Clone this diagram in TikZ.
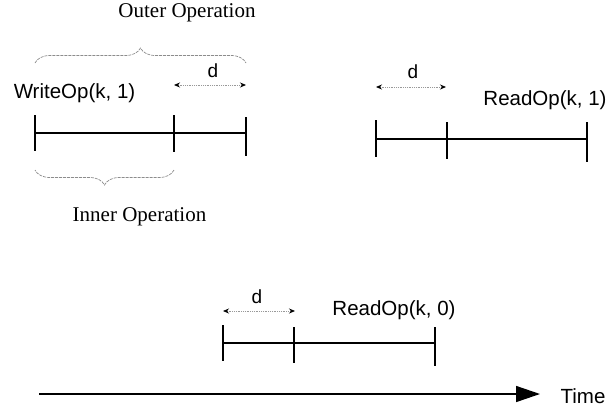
\documentclass[tikz,border=0pt]{standalone}
\usepackage{fontspec}
\setmainfont{Liberation Serif}
\setsansfont{Liberation Sans}
\usetikzlibrary{arrows.meta,decorations.pathreplacing}
\tikzset{
  lab/.style={font=\sffamily\fontsize{20.5}{22}\selectfont, inner sep=0pt, anchor=base},
  dlab/.style={font=\sffamily\fontsize{19}{21}\selectfont, inner sep=0pt, anchor=base},
  serlab/.style={font=\rmfamily\fontsize{21}{23}\selectfont, inner sep=0pt, anchor=base},
  opline/.style={line width=2.2pt},
  tick/.style={line width=1.3pt},
  darrow/.style={densely dotted, draw=gray!80, line width=0.8pt,
    arrows={Stealth[black,length=6pt,width=5pt]-Stealth[black,length=6pt,width=5pt]}},
  bracebox/.style={draw=gray!90, dashed, line width=0.7pt, dash pattern=on 3pt off 1pt},
}
\begin{document}
\begin{tikzpicture}[x=1pt,y=-1pt]
\useasboundingbox (0,0) rectangle (613,408);
% ---- WriteOp timeline
\coordinate (wa) at (35,133); \coordinate (wb) at (174,133); \coordinate (wc) at (246,133);
\draw[opline] (wa) -- (wb) -- (wc);
\draw[tick] (35,115) -- (35,151);
\draw[tick] (174,115) -- (174,152);
\draw[tick] (246,117) -- (246,156);
\node[lab] (wlab) at (74.5,98) {WriteOp(k, 1)};
\coordinate (wd1) at (174,85); \coordinate (wd2) at (246,85);
\draw[darrow] (wd1) -- (wd2);
\node[dlab] (wd) at (213,77) {d};
% outer brace
\coordinate (ob1) at (35,63); \coordinate (ob2) at (246,63);
\draw[bracebox, decorate, decoration={brace, amplitude=15pt, aspect=0.5}] (ob1) -- (ob2);
\node[serlab] (outer) at (187,17) {Outer Operation};
% inner brace
\coordinate (ib1) at (174,170); \coordinate (ib2) at (35,170);
\draw[bracebox, decorate, decoration={brace, amplitude=15pt, aspect=0.5}] (ib1) -- (ib2);
\node[serlab] (inner) at (139.5,221) {Inner Operation};
% ---- ReadOp(k,1)
\coordinate (ra) at (376,139); \coordinate (rb) at (447,139); \coordinate (rc) at (587,139);
\draw[opline] (ra) -- (rb) -- (rc);
\draw[tick] (376,120) -- (376,157);
\draw[tick] (447,122) -- (447,159);
\draw[tick] (587,122) -- (587,162);
\coordinate (rd1) at (376,87); \coordinate (rd2) at (446,87);
\draw[darrow] (rd1) -- (rd2);
\node[dlab] (rd) at (413,78) {d};
\node[lab] (rlab) at (545,105) {ReadOp(k, 1)};
% ---- ReadOp(k,0)
\coordinate (sa) at (223,343); \coordinate (sb) at (294,343); \coordinate (sc) at (435,343);
\draw[opline] (sa) -- (sb) -- (sc);
\draw[tick] (223,325) -- (223,361);
\draw[tick] (294,327) -- (294,363);
\draw[tick] (435,327) -- (435,366);
\coordinate (sd1) at (223,311); \coordinate (sd2) at (295,311);
\draw[darrow] (sd1) -- (sd2);
\node[dlab] (sd) at (257,303) {d};
\node[lab] (slab) at (394,315) {ReadOp(k, 0)};
% ---- Time axis
\node[lab] (time) at (583,403) {Time};
\coordinate (t0) at (39,394); \coordinate (t1) at (540,394);
\draw[line width=1.5pt, -{Triangle[length=24pt,width=16pt]}] (t0) -- (t1);
\end{tikzpicture}
\end{document}
